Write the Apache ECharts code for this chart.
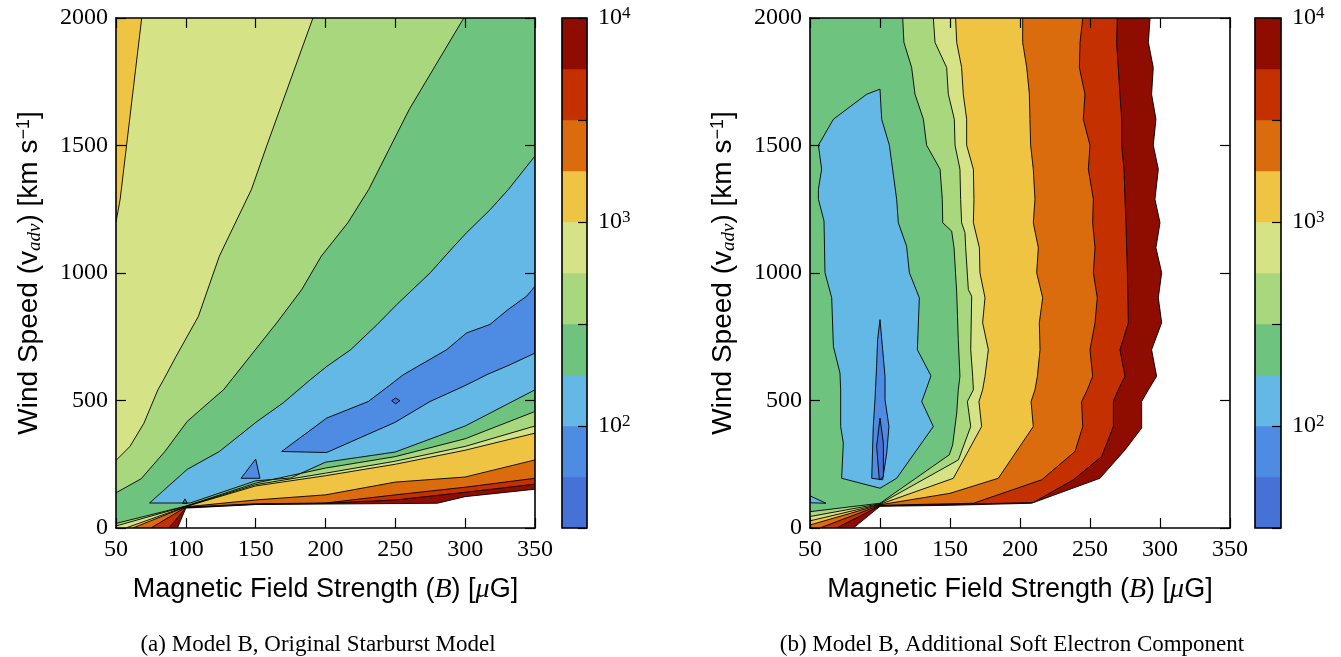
<!DOCTYPE html>
<html><head><meta charset="utf-8">
<script src="https://cdn.jsdelivr.net/npm/echarts@6/dist/echarts.min.js"></script>
<style>html,body{margin:0;padding:0;background:#fff;}#c{width:1341px;height:657px;}</style>
</head><body><div id="c"></div>
<script>
// ---------- data ----------
const xTicks = [50, 100, 150, 200, 250, 300, 350];
const yTicks = [0, 500, 1000, 1500, 2000];
const levelExp = [1.5, 1.75, 2, 2.25, 2.5, 2.75, 3, 3.25, 3.5, 3.75, 4];
const bandColors = ['#4672d8', '#4e8be2', '#64b8e5', '#6ec47f', '#a8d77d', '#d5e286', '#f0c443', '#da6c0e', '#c43000', '#8e0c00'];
const captionA = '(a) Model B, Original Starburst Model';
const captionB = '(b) Model B, Additional Soft Electron Component';

// Panel (a) contour boundaries [B (uG), v (km/s)]
const aU7 = [[50,1200],[53,1290],[68.4,2000]];
const aU6 = [[50,265],[60,320],[70,411],[80,542],[84,581],[93,673],[109,830],[124,1066],[147,1328],[158,1500],[191,2000]];
const aU5 = [[50,138],[68,193],[85,300],[101,418],[117,495],[127,542],[146,673],[165,804],[183,935],[197,1066],[216,1197],[231,1328],[260,1642],[299,2000]];
const aC4 = [[350,1459],[331,1328],[318,1249],[301,1158],[292,1105],[275,1001],[251,876],[237,798],[218,699],[201,634],[189,581],[170,492],[151,418],[124,300],[101,230],[74,98],[103,98],[150,185],[175,196],[200,258],[250,298],[300,400],[350,542]];
const aMed = [[168.6,300],[200.8,431],[230.6,496],[246,560],[255.7,601],[286.7,699],[301,765],[317.7,798],[330.8,857],[344,909],[350,948],[350,686],[332,640],[315.4,601],[308.2,581],[298.6,555],[274.8,496],[249.7,414],[200.8,296]];
const aTri = [[139.5,195],[150,270],[153.1,195]];
const aTiny = [[97.7,97],[99.4,114],[101,97]];
const aDiamond = [[247.4,499],[250.2,510],[253.3,499],[250.2,487]];
const aL5 = [[50,18],[100,86],[150,176],[200,235],[250,280],[300,350],[350,457]];
const aL6 = [[50,8],[100,85],[150,170],[200,215],[250,262],[300,320],[350,400]];
const aL7 = [[57,0],[100,84],[150,165],[200,205],[250,250],[300,305],[350,372]];
const aL8 = [[62,0],[100,83],[150,110],[200,130],[250,180],[300,200],[350,267]];
const aL9 = [[75,0],[100,82],[150,95],[200,98],[250,130],[300,160],[350,195]];
const aL10 = [[88,0],[100,80],[150,93],[200,97],[250,110],[300,140],[350,172]];
const aL11 = [[94,0],[100,78],[150,92],[280,97],[300,123],[350,152]];

// Panel (b) contour boundaries
const bC5 = [[50,64],[100,97],[149.5,287],[151.9,326],[154.8,451],[155.9,540],[157.1,595],[155.9,739],[154.8,922],[152.9,1099],[151.2,1164],[144.8,1197],[144.5,1289],[142.9,1407],[133.3,1501],[131,1603],[125,1701],[122.6,1806],[117.1,1904],[116.2,2000]];
const bC6 = [[50,45],[100,95],[156,267],[164.8,398],[162.4,496],[166.7,542],[166.2,595],[164.8,699],[165.5,909],[163.1,935],[161.2,1099],[160.7,1158],[158.3,1197],[157.6,1289],[157.1,1407],[153.6,1501],[153.1,1603],[148.8,1701],[147.6,1806],[139.3,1904],[138.1,2000]];
const bC7 = [[50,28],[100,93],[152.4,195],[172.6,398],[170.7,496],[173.3,542],[175,595],[177.4,699],[173.3,805],[175,903],[171.4,1001],[171,1099],[166.7,1197],[167.1,1289],[166.7,1407],[161.9,1501],[161.9,1603],[159.5,1701],[158.3,1806],[154.8,1904],[154,2000]];
const bC8 = [[50,12],[100,91],[150,136],[184.5,195],[209.5,398],[207.9,496],[210.7,542],[212.4,595],[214.3,699],[213.8,805],[216.2,903],[211.9,1001],[213.1,1099],[209.5,1197],[210.7,1289],[209.5,1407],[207.6,1501],[207.1,1603],[206.7,1701],[204.8,1806],[201.9,1904],[201.9,2000]];
const bC9 = [[57,0],[100,89],[166.7,97],[215.5,189],[239.3,300],[244.8,398],[244,496],[248.1,542],[251.9,595],[250,699],[253.6,805],[255.2,903],[252.4,1001],[253.6,1099],[251.9,1197],[252.4,1289],[248.8,1407],[250,1501],[245.2,1603],[246.4,1701],[242.4,1806],[242.9,1904],[244.8,2000]];
const bC10 = [[69,0],[100,87],[150,92],[209.5,100],[238.1,189],[258.3,280],[266.7,398],[266.7,496],[270.2,542],[275,595],[271.4,699],[277.4,805],[276.7,1001],[275.7,1197],[275,1289],[274.3,1407],[272.6,1501],[272.6,1603],[271.4,1701],[269,1904],[269.5,2000]];
const bC11 = [[81,0],[100,85],[150,89],[208.3,97],[257.1,195],[275,306],[286.9,392],[286.9,496],[291.7,542],[297.6,595],[294,699],[301.2,805],[298.8,903],[301.2,1001],[297.1,1099],[300,1197],[296.4,1289],[298.8,1407],[295.2,1501],[297.1,1603],[294,1701],[295.2,1806],[291.7,1904],[292.9,2000]];
const bLB = [[56,1501],[66.7,1603],[90.5,1701],[100,1721],[101.2,1603],[106.7,1501],[111.9,1289],[113.1,1197],[119,1105],[121,1001],[128.1,903],[126.7,699],[136.4,597],[132.9,542],[129.8,496],[138.1,398],[111.9,195],[100,156],[72.6,195],[73.8,333],[71.9,398],[71.9,542],[71.4,608],[66.7,712],[65.5,903],[60.7,1001],[60,1204],[56,1289],[56,1328],[58.3,1407]];
const bWedge = [[50,126],[61.4,97],[50,99]];
const bMed = [[100,817],[101.9,699],[103.6,595],[103.6,503],[106.4,398],[104.8,294],[101.9,189],[94.1,195],[95.2,398],[96.4,503],[97.6,634],[98.3,739]];
const bDark = [[100,431],[102.4,333],[102.4,202],[99.5,189],[97.6,320]];

// ---------- build layers ----------
const X0 = xTicks[0], X1 = xTicks[xTicks.length - 1], Y0 = yTicks[0], Y1 = yTicks[yTicks.length - 1];
const full = [[X0,Y0],[X1,Y0],[X1,Y1],[X0,Y1]];
const C = bandColors;
const fill = (pts, color, stroke) => ({pts, color, stroke: !!stroke, kind: 'fill'});
const line = (pts) => ({pts, kind: 'line'});

const layersA = [
  fill(full, C[3]),
  fill(aC4, C[2]),
  fill(aMed, C[1], true),
  fill(aTri, C[1], true),
  fill(aTiny, C[1], true),
  fill(aDiamond, C[0], true),
  fill(aU5.concat([[X0,Y1]]), C[4]),
  fill(aU6.concat([[X0,Y1]]), C[5]),
  fill(aU7.concat([[X0,Y1]]), C[6]),
  fill(aL5.concat([[X1,Y0],[X0,Y0]]), C[4]),
  fill(aL6.concat([[X1,Y0],[X0,Y0]]), C[5]),
  fill(aL7.concat([[X1,Y0]]), C[6]),
  fill(aL8.concat([[X1,Y0]]), C[7]),
  fill(aL9.concat([[X1,Y0]]), C[8]),
  fill(aL10.concat([[X1,Y0]]), C[9]),
  fill(aL11.concat([[X1,Y0]]), '#ffffff'),
  line(aC4), line(aU5), line(aU6), line(aU7),
  line(aL5), line(aL6), line(aL7), line(aL8), line(aL9), line(aL10), line(aL11)
];
const layersB = [
  fill(full, C[3]),
  fill(bC5.concat([[X1,Y1],[X1,Y0],[X0,Y0]]), C[4]),
  fill(bC6.concat([[X1,Y1],[X1,Y0],[X0,Y0]]), C[5]),
  fill(bC7.concat([[X1,Y1],[X1,Y0],[X0,Y0]]), C[6]),
  fill(bC8.concat([[X1,Y1],[X1,Y0],[X0,Y0]]), C[7]),
  fill(bC9.concat([[X1,Y1],[X1,Y0]]), C[8]),
  fill(bC10.concat([[X1,Y1],[X1,Y0]]), C[9]),
  fill(bC11.concat([[X1,Y1],[X1,Y0]]), '#ffffff'),
  fill(bLB, C[2], true),
  fill(bWedge, C[2], true),
  fill(bMed, C[1], true),
  fill(bDark, C[0], true),
  line(bC5), line(bC6), line(bC7), line(bC8), line(bC9), line(bC10), line(bC11)
];

function contourRender(layers) {
  return function (params, api) {
    const L = layers[api.value(2)];
    const pts = L.pts.map(p => api.coord(p));
    if (L.kind === 'fill') {
      return {type: 'polygon', shape: {points: pts},
        style: {fill: L.color, stroke: L.stroke ? '#000' : null, lineWidth: L.stroke ? 0.9 : 0}};
    }
    return {type: 'polyline', shape: {points: pts}, style: {fill: null, stroke: '#000', lineWidth: 0.9}};
  };
}
function cbarRender(params, api) {
  const i = api.value(2);
  if (i < bandColors.length) {
    const p0 = api.coord([0, levelExp[i]]), p1 = api.coord([1, levelExp[i + 1]]);
    return {type: 'rect', shape: {x: p0[0], y: p1[1], width: p1[0] - p0[0], height: p0[1] - p1[1]},
      style: {fill: bandColors[i], stroke: bandColors[i], lineWidth: 0.5}};
  }
  const p0 = api.coord([0, levelExp[0]]), p1 = api.coord([1, levelExp[levelExp.length - 1]]);
  return {type: 'rect', shape: {x: p0[0], y: p1[1], width: p1[0] - p0[0], height: p0[1] - p1[1]},
    style: {fill: null, stroke: '#000', lineWidth: 1.6}, z2: 10};
}

// ---------- option ----------
const serif = 'Liberation Serif', sans = 'Liberation Sans';
const lineSty = {color: '#000', width: 1.6};
const tickSty = {show: true, inside: true, length: 10, lineStyle: {color: '#000', width: 1.2}};
const lab = {fontFamily: serif, fontSize: 24, color: '#000', formatter: v => String(v)};
const xName = 'Magnetic Field Strength ({i|B}) [{i|μ}G]';
const yName = 'Wind Speed (v{sub|adv}) [km s{sup|−1}]';
const nameStyle = {fontFamily: sans, fontSize: 27, color: '#000',
  rich: {i: {fontFamily: serif, fontStyle: 'italic', fontSize: 28, color: '#000'},
         sub: {fontFamily: serif, fontStyle: 'italic', fontSize: 19, color: '#000', verticalAlign: 'bottom', padding: [10, 0, 0, 0]},
         sup: {fontFamily: sans, fontSize: 18, color: '#000', verticalAlign: 'top', padding: [0, 0, 10, 0]}}};
const nameStyleY = Object.assign({}, nameStyle, {fontSize: 28});

function mainX(grid, top) {
  return {type: 'value', gridIndex: grid, min: X0, max: X1, interval: 50, position: top ? 'top' : 'bottom', z: 10,
    axisLine: {show: true, onZero: false, lineStyle: lineSty}, axisTick: tickSty, splitLine: {show: false},
    axisLabel: top ? {show: false} : Object.assign({margin: 10, showMinLabel: true, showMaxLabel: true}, lab),
    name: top ? '' : xName, nameLocation: 'middle', nameGap: 48, nameTextStyle: nameStyle};
}
function mainY(grid, right) {
  return {type: 'value', gridIndex: grid, min: Y0, max: Y1, interval: 500, position: right ? 'right' : 'left', z: 10,
    axisLine: {show: true, onZero: false, lineStyle: lineSty}, axisTick: tickSty, splitLine: {show: false},
    axisLabel: right ? {show: false} : Object.assign({margin: 8, showMinLabel: true, showMaxLabel: true}, lab),
    name: right ? '' : yName, nameLocation: 'middle', nameGap: 72, nameRotate: 90, nameTextStyle: nameStyleY};
}
function cbX(grid) { return {type: 'value', gridIndex: grid, min: 0, max: 1, show: false}; }
function cbY(grid) {
  return {type: 'value', gridIndex: grid, min: levelExp[0], max: levelExp[levelExp.length - 1], interval: 0.5, position: 'right', z: 10,
    axisLine: {show: false, onZero: false}, splitLine: {show: false},
    axisTick: {show: true, inside: true, length: 9, lineStyle: {color: '#000', width: 1.2}},
    axisLabel: {margin: 11, showMinLabel: true, showMaxLabel: true,
      formatter: v => Math.abs(v - Math.round(v)) < 1e-9 ? '{b|10}{s|' + Math.round(v) + '}' : '',
      rich: {b: {fontFamily: serif, fontSize: 24, color: '#000'},
             s: {fontFamily: serif, fontSize: 17, color: '#000', verticalAlign: 'top', padding: [0, 0, 8, 0]}}}};
}
const idx = arr => arr.map((_, i) => [X0, Y0, i]);
const cbData = bandColors.map((_, i) => [0, levelExp[i], i]).concat([[0, levelExp[0], bandColors.length]]);

const option = {
  animation: false,
  backgroundColor: '#fff',
  grid: [
    {left: 116, top: 18, width: 419, height: 510},
    {left: 810, top: 18, width: 420, height: 510},
    {left: 562, top: 18, width: 25, height: 510},
    {left: 1255, top: 18, width: 26, height: 510}
  ],
  xAxis: [mainX(0, false), mainX(0, true), mainX(1, false), mainX(1, true), cbX(2), cbX(3)],
  yAxis: [mainY(0, false), mainY(0, true), mainY(1, false), mainY(1, true), cbY(2), cbY(3)],
  series: [
    {type: 'custom', xAxisIndex: 0, yAxisIndex: 0, clip: true, data: idx(layersA), renderItem: contourRender(layersA), silent: true},
    {type: 'custom', xAxisIndex: 2, yAxisIndex: 2, clip: true, data: idx(layersB), renderItem: contourRender(layersB), silent: true},
    {type: 'custom', xAxisIndex: 4, yAxisIndex: 4, data: cbData, renderItem: cbarRender, silent: true},
    {type: 'custom', xAxisIndex: 5, yAxisIndex: 5, data: cbData, renderItem: cbarRender, silent: true}
  ],
  graphic: [
    {type: 'text', x: 318, y: 645, style: {text: captionA, font: '23px "Liberation Serif"', fill: '#000', textAlign: 'center', textVerticalAlign: 'middle', align: 'center', verticalAlign: 'middle'}},
    {type: 'text', x: 1012, y: 645, style: {text: captionB, font: '23px "Liberation Serif"', fill: '#000', textAlign: 'center', textVerticalAlign: 'middle', align: 'center', verticalAlign: 'middle'}}
  ]
};
const chart = echarts.init(document.getElementById('c'), null, {renderer: 'canvas'});
chart.setOption(option);
</script></body></html>
